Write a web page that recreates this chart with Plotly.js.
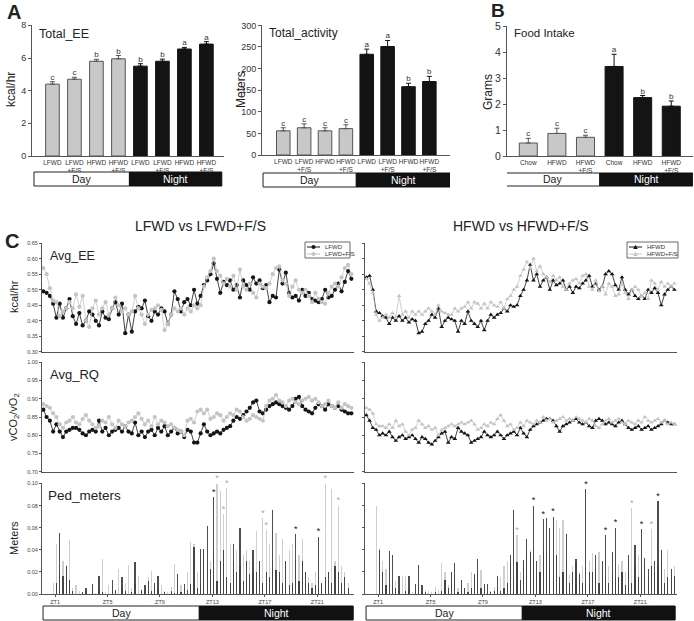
<!DOCTYPE html>
<html><head><meta charset="utf-8">
<script src="https://cdn.plot.ly/plotly-3.0.1.min.js"></script>
<style>html,body{margin:0;padding:0;background:#fff}#chart{width:694px;height:621px}</style>
</head><body><div id="chart"></div>
<script>
// ---------- Panel A: Total_EE ----------
const eeLabels = ['LFWD','LFWD<br>+F/S','HFWD','HFWD<br>+F/S','LFWD','LFWD<br>+F/S','HFWD','HFWD<br>+F/S'];
const eeValues = [4.4, 4.7, 5.8, 5.95, 5.5, 5.8, 6.55, 6.85];
const eeErrors = [0.15, 0.12, 0.12, 0.2, 0.15, 0.13, 0.1, 0.15];
const eeLetters = ['c','c','b','b','b','b','a','a'];
// ---------- Panel A: Total_activity ----------
const actLabels = ['LFWD','LFWD<br>+F/S','HFWD','HFWD<br>+F/S','LFWD','LFWD<br>+F/S','HFWD','HFWD<br>+F/S'];
const actValues = [56, 63, 56, 61, 233, 251, 158, 170];
const actErrors = [7, 9, 7, 9, 12, 14, 8, 12];
const actLetters = ['c','c','c','c','a','a','b','b'];
// ---------- Panel B: Food Intake ----------
const foodLabels = ['Chow','HFWD','HFWD<br>+F/S','Chow','HFWD','HFWD<br>+F/S'];
const foodValues = [0.5, 0.87, 0.72, 3.45, 2.25, 1.92];
const foodErrors = [0.18, 0.2, 0.08, 0.47, 0.08, 0.2];
const foodLetters = ['c','c','c','a','b','b'];

// ---------- Panel C: time series (ZT hours, sampled every 15 min) ----------
const T0 = 0.1, DT = 0.25;
const ztTicks = [1, 5, 9, 13, 17, 21];
const ztLabels = ['ZT1','ZT5','ZT9','ZT13','ZT17','ZT21'];

const lfwdEE = [0.495,0.49,0.48,0.455,0.41,0.455,0.41,0.44,0.47,0.415,
 0.39,0.425,0.385,0.40,0.43,0.42,0.40,0.385,0.43,0.41,
 0.405,0.44,0.46,0.42,0.455,0.36,0.42,0.365,0.43,0.445,
 0.44,0.465,0.415,0.40,0.43,0.42,0.44,0.43,0.39,0.42,
 0.495,0.47,0.43,0.46,0.47,0.45,0.50,0.455,0.48,0.515,
 0.53,0.55,0.585,0.535,0.49,0.525,0.515,0.53,0.50,0.515,
 0.475,0.53,0.515,0.50,0.54,0.52,0.53,0.505,0.515,0.46,
 0.48,0.475,0.565,0.52,0.555,0.49,0.475,0.48,0.465,0.50,
 0.48,0.49,0.47,0.465,0.46,0.47,0.50,0.475,0.48,0.50,
 0.52,0.495,0.525,0.56,0.535];
const lfwdfsEE = [0.57,0.55,0.505,0.465,0.46,0.415,0.43,0.44,0.46,0.44,
 0.485,0.445,0.48,0.40,0.38,0.44,0.465,0.42,0.44,0.46,
 0.42,0.44,0.475,0.45,0.43,0.44,0.42,0.43,0.48,0.44,
 0.42,0.39,0.42,0.435,0.44,0.45,0.435,0.37,0.39,0.42,
 0.44,0.43,0.44,0.42,0.44,0.43,0.45,0.44,0.45,0.51,
 0.54,0.56,0.60,0.56,0.545,0.52,0.535,0.51,0.545,0.50,
 0.565,0.51,0.50,0.52,0.49,0.475,0.52,0.51,0.505,0.52,
 0.55,0.57,0.575,0.53,0.52,0.48,0.51,0.53,0.50,0.49,
 0.50,0.48,0.46,0.49,0.47,0.46,0.455,0.49,0.51,0.52,
 0.51,0.54,0.57,0.58,0.55];
const hfwdEE = [0.54,0.545,0.50,0.43,0.425,0.415,0.41,0.39,0.41,0.40,
 0.415,0.40,0.41,0.395,0.405,0.40,0.36,0.365,0.39,0.40,
 0.42,0.41,0.44,0.38,0.40,0.41,0.405,0.40,0.365,0.40,
 0.39,0.43,0.40,0.39,0.38,0.40,0.37,0.40,0.42,0.41,
 0.42,0.425,0.44,0.43,0.45,0.445,0.45,0.48,0.50,0.53,
 0.58,0.53,0.55,0.51,0.53,0.54,0.50,0.53,0.515,0.52,
 0.53,0.50,0.51,0.49,0.51,0.505,0.52,0.53,0.545,0.51,
 0.52,0.50,0.51,0.55,0.56,0.55,0.515,0.50,0.54,0.50,
 0.485,0.50,0.48,0.47,0.48,0.47,0.50,0.49,0.505,0.49,
 0.45,0.485,0.50,0.51,0.50];
const hfwdfsEE = [0.535,0.52,0.49,0.42,0.40,0.41,0.42,0.41,0.425,0.41,
 0.48,0.42,0.43,0.41,0.43,0.42,0.43,0.42,0.43,0.44,
 0.43,0.42,0.45,0.43,0.425,0.42,0.42,0.44,0.43,0.44,
 0.445,0.46,0.44,0.46,0.455,0.44,0.455,0.44,0.46,0.45,
 0.445,0.46,0.44,0.47,0.48,0.50,0.51,0.545,0.565,0.59,
 0.57,0.60,0.56,0.575,0.55,0.54,0.525,0.545,0.53,0.54,
 0.51,0.50,0.52,0.53,0.535,0.52,0.545,0.55,0.51,0.50,
 0.53,0.495,0.51,0.485,0.52,0.51,0.48,0.485,0.52,0.49,
 0.47,0.50,0.51,0.50,0.48,0.49,0.47,0.53,0.52,0.50,
 0.525,0.51,0.52,0.51,0.52];

const lfwdRQ = [0.87,0.85,0.84,0.81,0.83,0.81,0.795,0.81,0.815,0.82,
 0.82,0.815,0.805,0.80,0.81,0.815,0.81,0.84,0.81,0.82,
 0.80,0.81,0.815,0.82,0.81,0.825,0.81,0.805,0.835,0.80,
 0.81,0.795,0.81,0.815,0.80,0.82,0.81,0.825,0.80,0.81,
 0.82,0.805,0.81,0.795,0.815,0.81,0.78,0.78,0.805,0.83,
 0.81,0.80,0.805,0.81,0.805,0.815,0.82,0.825,0.84,0.85,
 0.845,0.855,0.865,0.875,0.89,0.895,0.865,0.86,0.87,0.88,
 0.885,0.89,0.885,0.88,0.875,0.87,0.88,0.90,0.905,0.88,
 0.87,0.865,0.86,0.875,0.885,0.88,0.87,0.885,0.88,0.875,
 0.88,0.87,0.865,0.86,0.86];
const lfwdfsRQ = [0.885,0.88,0.875,0.86,0.85,0.83,0.82,0.835,0.84,0.85,
 0.835,0.83,0.845,0.855,0.84,0.83,0.82,0.825,0.84,0.835,
 0.85,0.83,0.82,0.84,0.83,0.825,0.835,0.84,0.85,0.86,
 0.845,0.83,0.84,0.825,0.85,0.83,0.84,0.835,0.825,0.83,
 0.82,0.815,0.81,0.80,0.84,0.845,0.835,0.865,0.87,0.86,
 0.87,0.845,0.85,0.86,0.855,0.84,0.85,0.86,0.855,0.87,
 0.865,0.85,0.84,0.845,0.855,0.85,0.845,0.84,0.88,0.895,
 0.90,0.91,0.895,0.89,0.88,0.895,0.90,0.89,0.885,0.895,
 0.90,0.905,0.895,0.90,0.89,0.88,0.885,0.895,0.88,0.875,
 0.89,0.875,0.885,0.88,0.875];
const hfwdRQ = [0.855,0.84,0.82,0.815,0.80,0.805,0.80,0.81,0.795,0.785,
 0.795,0.80,0.79,0.795,0.80,0.79,0.78,0.795,0.79,0.78,
 0.775,0.785,0.795,0.805,0.81,0.78,0.795,0.79,0.82,0.81,
 0.805,0.80,0.78,0.785,0.79,0.795,0.81,0.80,0.795,0.80,
 0.81,0.80,0.79,0.80,0.805,0.81,0.80,0.82,0.805,0.795,
 0.815,0.825,0.83,0.835,0.84,0.845,0.845,0.84,0.825,0.81,
 0.825,0.83,0.835,0.84,0.845,0.835,0.83,0.835,0.825,0.82,
 0.84,0.845,0.84,0.83,0.835,0.83,0.825,0.835,0.84,0.83,
 0.82,0.815,0.82,0.825,0.815,0.82,0.825,0.815,0.82,0.825,
 0.83,0.84,0.835,0.83,0.83];
const hfwdfsRQ = [0.875,0.87,0.86,0.83,0.825,0.825,0.82,0.83,0.82,0.84,
 0.825,0.83,0.81,0.80,0.815,0.82,0.84,0.83,0.82,0.825,
 0.815,0.82,0.80,0.815,0.82,0.825,0.83,0.825,0.83,0.835,
 0.83,0.835,0.84,0.83,0.815,0.82,0.83,0.825,0.835,0.83,
 0.845,0.855,0.84,0.825,0.83,0.815,0.82,0.835,0.825,0.84,
 0.835,0.83,0.84,0.835,0.85,0.84,0.845,0.835,0.84,0.845,
 0.85,0.84,0.845,0.84,0.85,0.845,0.84,0.835,0.845,0.84,
 0.825,0.82,0.83,0.84,0.845,0.835,0.84,0.845,0.835,0.83,
 0.84,0.835,0.83,0.84,0.835,0.85,0.84,0.835,0.84,0.845,
 0.835,0.84,0.83,0.835,0.83];

const lfwdPed = [0,0,0,0,0.01,0.055,0.016,0.025,0.013,0.003,
 0,0,0.002,0.005,0,0.009,0,0.016,0.002,0,
 0,0.013,0.004,0,0.015,0.003,0,0.002,0.029,0,
 0.004,0.008,0.012,0.003,0.010,0.016,0,0.002,0,0.003,
 0.001,0.018,0.002,0.009,0.004,0.009,0.043,0.005,0.041,0.041,
 0.062,0.023,0.088,0.012,0.03,0.04,0.015,0.01,0.045,0.02,
 0.06,0.012,0.03,0.018,0.04,0.02,0.03,0.01,0.02,0.015,
 0.076,0.022,0.02,0.01,0.03,0.008,0.01,0.054,0.012,0.03,
 0.02,0.01,0.005,0.008,0.052,0.01,0.015,0.02,0.01,0.025,
 0.02,0.01,0.015,0.005,0];
const lfwdfsPed = [0,0,0,0.01,0.045,0.02,0.03,0.026,0.049,0.005,
 0.008,0.003,0,0.002,0,0.003,0.001,0.004,0.032,0.002,
 0.008,0.004,0.002,0.023,0.006,0.01,0.026,0.005,0.01,0.016,
 0.002,0.004,0.015,0.021,0.006,0.004,0.008,0.003,0.002,0.006,
 0.027,0.004,0.008,0.005,0.02,0.047,0.045,0.02,0.01,0.04,
 0.025,0.03,0.035,0.10,0.093,0.072,0.096,0.045,0.03,0.04,
 0.025,0.035,0.04,0.03,0.02,0.057,0.03,0.069,0.058,0.045,
 0.03,0.055,0.035,0.05,0.025,0.04,0.045,0.03,0.035,0.05,
 0.02,0.015,0.01,0.02,0.015,0.01,0.10,0.02,0.095,0.03,
 0.08,0.025,0.02,0.01,0];
const hfwdPed = [0,0,0,0,0.04,0.02,0.008,0.039,0.035,0.005,
 0.016,0,0.003,0.016,0,0.009,0.026,0.008,0.002,0,
 0,0.002,0,0.003,0.013,0.005,0.02,0.028,0.002,0.013,
 0.005,0.002,0.005,0.018,0.032,0.005,0.009,0.009,0.002,0.003,
 0.016,0.003,0.005,0.01,0.035,0.076,0.029,0.013,0.031,0.05,
 0.038,0.08,0.03,0.02,0.068,0.069,0.06,0.07,0.035,0.015,
 0.02,0.054,0.01,0.02,0.032,0.018,0.01,0.095,0.02,0.02,
 0.035,0.01,0.03,0.053,0.01,0.038,0.06,0.015,0.02,0.008,
 0.035,0.01,0.044,0.015,0.059,0.033,0.023,0.025,0.03,0.084,
 0.04,0.01,0.015,0.023,0.016];
const hfwdfsPed = [0,0,0,0.08,0.042,0.03,0.023,0.01,0.005,0.012,
 0.004,0.016,0.016,0.004,0.002,0.003,0.008,0.002,0.004,0.003,
 0.002,0.006,0.004,0.028,0.02,0.008,0.01,0.015,0.005,0.008,
 0.005,0.01,0.02,0.014,0.021,0.022,0.006,0.004,0.003,0.006,
 0.01,0.015,0.025,0.03,0.029,0.012,0.053,0.02,0.025,0.035,
 0.04,0.03,0.015,0.035,0.04,0.04,0.025,0.035,0.067,0.06,
 0.067,0.03,0.018,0.025,0.028,0.02,0.025,0.012,0.03,0.037,
 0.025,0.038,0.02,0.015,0.025,0.02,0.015,0.027,0.03,0.02,
 0.03,0.078,0.025,0.035,0.02,0.028,0.015,0.059,0.02,0.025,
 0.03,0.023,0.04,0.023,0.025];

// sample indices marked with an asterisk (significant)
const lfwdStars = [52, 77, 84];
const lfwdfsStars = [53, 55, 56, 67, 68, 86, 90];
const hfwdStars = [51, 54, 57, 67, 73, 76, 84, 89];
const hfwdfsStars = [46, 81, 87];

// ---------- build ----------
const F = 'Arial, "Liberation Sans", Helvetica, sans-serif';
const tGrid = lfwdEE.map((_, i) => T0 + i * DT);
const DAY = '#c8c8c8', NIGHT = '#141414', GREY = '#c4c4c4', BLACK = '#151515';

function barPanel(vals, errs, letters, nDay, width, xa, ya) {
  const idx = vals.map((_, i) => i);
  const zeros = vals.map(() => 0);
  const mk = (a, b, fill, line, ec) => ({
    type: 'bar', x: idx.slice(a, b), y: vals.slice(a, b), xaxis: xa, yaxis: ya, width: width,
    marker: {color: fill, line: {color: line, width: 1}}, showlegend: false, hoverinfo: 'skip',
    error_y: {type: 'data', symmetric: false, array: errs.slice(a, b), arrayminus: zeros.slice(a, b), color: ec, thickness: 1, width: 2.5}
  });
  return [
    mk(0, nDay, DAY, '#555', '#555'),
    mk(nDay, vals.length, NIGHT, NIGHT, '#111'),
    {type: 'scatter', mode: 'text', x: idx, y: vals.map((v, i) => v + errs[i]), text: letters, xaxis: xa, yaxis: ya,
     textposition: 'top center', textfont: {family: F, size: 8, color: '#333333'}, showlegend: false, hoverinfo: 'skip', cliponaxis: false}
  ];
}

function lineTrace(y, color, symbol, xa, ya) {
  return {type: 'scatter', mode: 'lines+markers', x: tGrid, y: y, xaxis: xa, yaxis: ya,
    line: {color: color, width: 0.8}, marker: {color: color, size: 4.2, symbol: symbol},
    showlegend: false, hoverinfo: 'skip'};
}
function pedTrace(y, color, xa, ya, op) {
  return {type: 'bar', x: tGrid, y: y, xaxis: xa, yaxis: ya, width: 0.09, opacity: op,
    marker: {color: color, line: {width: 0}}, showlegend: false, hoverinfo: 'skip'};
}
function starTrace(series, idxs, color, xa, ya) {
  return {type: 'scatter', mode: 'text', x: idxs.map(i => tGrid[i]), y: idxs.map(i => series[i]),
    text: idxs.map(() => '*'), textposition: 'top center', textfont: {family: F, size: 9, color: color},
    xaxis: xa, yaxis: ya, showlegend: false, hoverinfo: 'skip', cliponaxis: false};
}

const data = [
  ...barPanel(eeValues, eeErrors, eeLetters, 4, 0.62, 'x', 'y'),
  ...barPanel(actValues, actErrors, actLetters, 4, 0.65, 'x2', 'y2'),
  ...barPanel(foodValues, foodErrors, foodLetters, 3, 0.63, 'x3', 'y3'),
  lineTrace(lfwdEE, BLACK, 'circle', 'x4', 'y4'),
  lineTrace(lfwdfsEE, GREY, 'circle', 'x4', 'y4'),
  lineTrace(hfwdEE, BLACK, 'triangle-up', 'x5', 'y5'),
  lineTrace(hfwdfsEE, GREY, 'triangle-up', 'x5', 'y5'),
  lineTrace(lfwdRQ, BLACK, 'circle', 'x6', 'y6'),
  lineTrace(lfwdfsRQ, GREY, 'circle', 'x6', 'y6'),
  lineTrace(hfwdRQ, BLACK, 'triangle-up', 'x7', 'y7'),
  lineTrace(hfwdfsRQ, GREY, 'triangle-up', 'x7', 'y7'),
  pedTrace(lfwdfsPed, '#cfcfcf', 'x8', 'y8', 1),
  pedTrace(lfwdPed, '#222', 'x8', 'y8', 0.8),
  pedTrace(hfwdfsPed, '#cfcfcf', 'x9', 'y9', 1),
  pedTrace(hfwdPed, '#222', 'x9', 'y9', 0.8),
  starTrace(lfwdPed, lfwdStars, '#111', 'x8', 'y8'),
  starTrace(lfwdfsPed, lfwdfsStars, '#aaa', 'x8', 'y8'),
  starTrace(hfwdPed, hfwdStars, '#111', 'x9', 'y9'),
  starTrace(hfwdfsPed, hfwdfsStars, '#aaa', 'x9', 'y9')
];

const W = 694, H = 621;
const px = v => v / W, py = v => 1 - v / H;
const base = {showgrid: false, zeroline: false, showline: true, linecolor: '#555', linewidth: 1,
  ticks: 'outside', ticklen: 3, tickcolor: '#555', tickwidth: 1, fixedrange: true,
  tickfont: {family: F, size: 9, color: '#333'}};
const catX = (dom, anchor, range, labels) => Object.assign({}, base, {domain: dom, anchor: anchor, range: range,
  tickvals: labels.map((_, i) => i), ticktext: labels, ticks: '', tickangle: 0, tickfont: {family: F, size: 6.5, color: '#333'}});
const smallY = (dom, anchor, range, dtick, labels) => Object.assign({}, base, {domain: dom, anchor: anchor, range: range,
  dtick: dtick, tick0: 0, tickformat: '.2f', showticklabels: labels, ticklen: 2, tickfont: {family: F, size: 5.5, color: '#444'}});
const tX = (dom, anchor, showTicks) => Object.assign({}, base, {domain: dom, anchor: anchor, range: [0, 23.8],
  tickvals: showTicks ? ztTicks : [], ticktext: ztLabels, showticklabels: showTicks, ticks: showTicks ? 'outside' : '',
  tickangle: 0, ticklen: 2, tickfont: {family: F, size: 5.5, color: '#444'}});

const LX = [px(42), px(354)], RX = [px(365), px(677)];
const EEY = [py(352), py(243)], RQY = [py(472), py(362)], PEDY = [py(594), py(483)];

const layout = {
  width: W, height: H, margin: {l: 0, r: 0, t: 0, b: 0}, paper_bgcolor: '#fff', plot_bgcolor: 'rgba(0,0,0,0)',
  font: {family: F, color: '#222'}, barmode: 'overlay', bargap: 0, showlegend: false,
  xaxis: catX([px(32), px(224)], 'y', [-0.93, 7.8], eeLabels),
  yaxis: Object.assign({}, base, {domain: [py(156), py(25)], anchor: 'x', range: [0, 8.02], dtick: 2}),
  xaxis2: catX([px(262), px(450)], 'y2', [-1.02, 7.99], actLabels),
  yaxis2: Object.assign({}, base, {domain: [py(155), py(25)], anchor: 'x2', range: [0, 300.8], dtick: 50}),
  xaxis3: catX([px(507), px(693)], 'y3', [-0.745, 5.76], foodLabels),
  yaxis3: Object.assign({}, base, {domain: [py(156), py(26)], anchor: 'x3', range: [0, 5.01], dtick: 1, tickfont: {family: F, size: 10.5, color: '#333'}}),
  xaxis4: tX(LX, 'y4', false), yaxis4: smallY(EEY, 'x4', [0.2995, 0.6505], 0.05, true),
  xaxis5: tX(RX, 'y5', false), yaxis5: smallY(EEY, 'x5', [0.2995, 0.6505], 0.05, false),
  xaxis6: tX(LX, 'y6', false), yaxis6: smallY(RQY, 'x6', [0.6995, 1.0005], 0.05, true),
  xaxis7: tX(RX, 'y7', false), yaxis7: smallY(RQY, 'x7', [0.6995, 1.0005], 0.05, false),
  xaxis8: tX(LX, 'y8', true), yaxis8: smallY(PEDY, 'x8', [0, 0.1005], 0.02, true),
  xaxis9: tX(RX, 'y9', true), yaxis9: smallY(PEDY, 'x9', [0, 0.1005], 0.02, false),
  shapes: [], annotations: []
};

function ann(text, x, y, size, opts) {
  layout.annotations.push(Object.assign({xref: 'paper', yref: 'paper', x: px(x), y: py(y), text: text, showarrow: false,
    xanchor: 'center', yanchor: 'middle', font: {family: F, size: size, color: '#222'}}, opts || {}));
}

// Day / Night strips
function dayNight(xref, x0, xs, x1, y0, y1, size) {
  layout.shapes.push({type: 'rect', xref: xref, yref: 'paper', x0: x0, x1: xs, y0: py(y1), y1: py(y0), fillcolor: '#fff', line: {color: '#222', width: 1}});
  layout.shapes.push({type: 'rect', xref: xref, yref: 'paper', x0: xs, x1: x1, y0: py(y1), y1: py(y0), fillcolor: '#111', line: {color: '#111', width: 1}});
  layout.annotations.push({xref: xref, yref: 'paper', x: (x0 + xs) / 2, y: py((y0 + y1) / 2), text: 'Day', showarrow: false,
    xanchor: 'center', yanchor: 'middle', font: {family: F, size: size, color: '#222'}});
  layout.annotations.push({xref: xref, yref: 'paper', x: (xs + x1) / 2, y: py((y0 + y1) / 2), text: 'Night', showarrow: false,
    xanchor: 'center', yanchor: 'middle', font: {family: F, size: size, color: '#fff'}});
}
dayNight('x', -0.84, 3.5, 7.7, 172, 186, 10.5);
dayNight('x2', -0.97, 3.5, 7.99, 173, 187, 10.5);
dayNight('x3', -0.81, 2.5, 5.75, 173, 186, 10.5);
dayNight('x8', 0.08, 12, 23.74, 606, 620, 10.5);
dayNight('x9', 0.08, 12, 23.66, 606, 620, 10.5);

// compact legends (drawn as small key boxes)
function legendBox(x0, x1, y0, y1, entries, symbol) {
  layout.shapes.push({type: 'rect', xref: 'paper', yref: 'paper', x0: px(x0), x1: px(x1), y0: py(y1), y1: py(y0),
    fillcolor: '#fff', line: {color: '#444', width: 0.8}});
  entries.forEach((e, k) => {
    const yy = y0 + 5 + k * 7;
    const lx0 = x0 + 2, lx1 = x0 + 15, mx = (lx0 + lx1) / 2;
    layout.shapes.push({type: 'line', xref: 'paper', yref: 'paper', x0: px(lx0), x1: px(lx1), y0: py(yy), y1: py(yy), line: {color: e.color, width: 1}});
    if (symbol === 'circle') {
      layout.shapes.push({type: 'circle', xref: 'paper', yref: 'paper', x0: px(mx - 2), x1: px(mx + 2), y0: py(yy + 2), y1: py(yy - 2),
        fillcolor: e.color, line: {color: e.color, width: 0}});
    } else {
      layout.shapes.push({type: 'path', xref: 'paper', yref: 'paper',
        path: 'M ' + px(mx - 2.3) + ' ' + py(yy + 2) + ' L ' + px(mx + 2.3) + ' ' + py(yy + 2) + ' L ' + px(mx) + ' ' + py(yy - 2.2) + ' Z',
        fillcolor: e.color, line: {color: e.color, width: 0}});
    }
    ann(e.name, x0 + 18, yy, 6, {xanchor: 'left', font: {family: F, size: 6, color: '#333'}});
  });
}
legendBox(305, 350, 242, 258, [{name: 'LFWD', color: BLACK}, {name: 'LFWD+F/S', color: GREY}], 'circle');
legendBox(627, 678, 242, 258, [{name: 'HFWD', color: BLACK}, {name: 'HFWD+F/S', color: GREY}], 'triangle');

ann('<b>A</b>', 14, 12, 20);
ann('<b>B</b>', 498, 11, 19);
ann('<b>C</b>', 12, 241, 20);
ann('kcal/hr', 11, 90, 12, {textangle: -90});
ann('Meters', 241, 90, 12, {textangle: -90});
ann('Grams', 488, 92, 12, {textangle: -90});
ann('Total_EE', 37, 34, 12.5, {xanchor: 'left'});
ann('Total_activity', 267, 33, 12, {xanchor: 'left'});
ann('Food Intake', 512, 33, 11.5, {xanchor: 'left'});
ann('LFWD vs LFWD+F/S', 200, 226, 14);
ann('HFWD vs HFWD+F/S', 521, 226, 14);
ann('Avg_EE', 48, 256, 12.5, {xanchor: 'left'});
ann('Avg_RQ', 48, 374, 13, {xanchor: 'left'});
ann('Ped_meters', 46, 495, 13.5, {xanchor: 'left'});
ann('kcal/hr', 14, 297, 11, {textangle: -90});
ann('vCO<sub>2</sub>/vO<sub>2</sub>', 14, 417, 11, {textangle: -90});
ann('Meters', 14, 538, 11, {textangle: -90});

Plotly.newPlot('chart', data, layout, {staticPlot: true, displayModeBar: false});
</script></body></html>
